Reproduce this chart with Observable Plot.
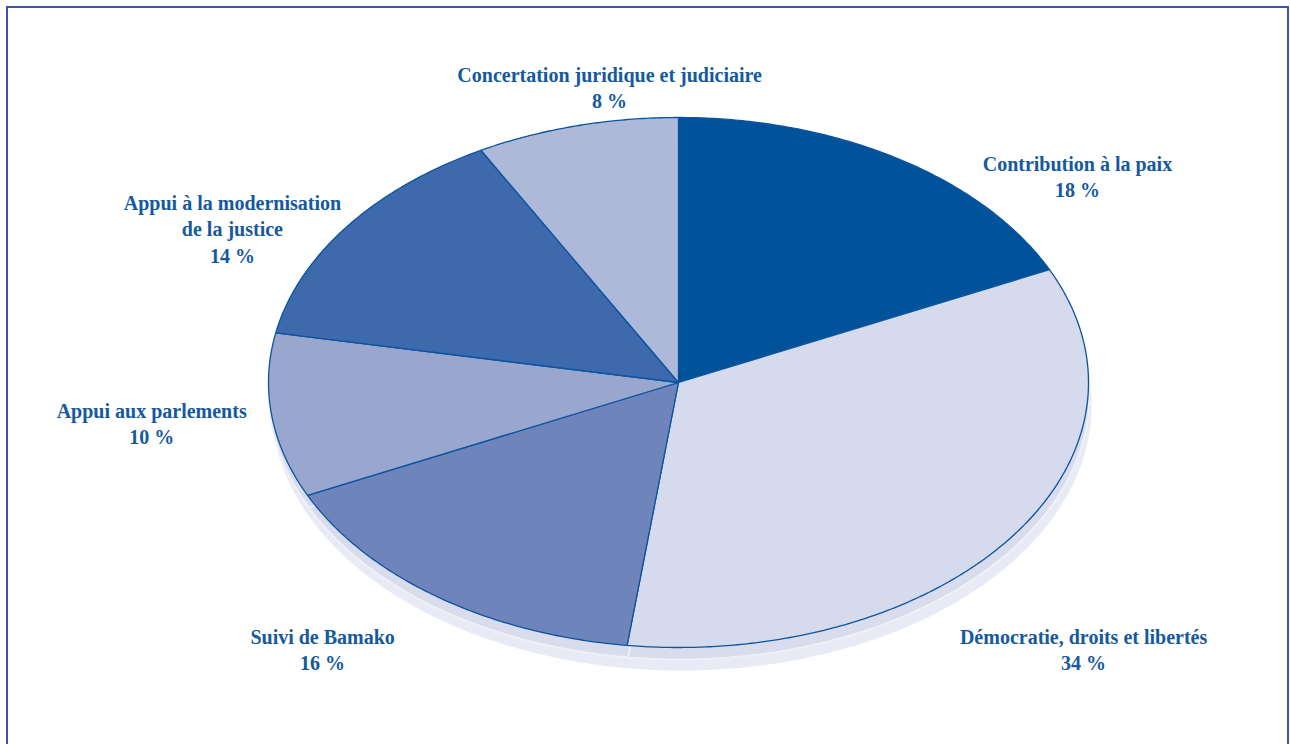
<!DOCTYPE html>
<html><head><meta charset="utf-8">
<script src="https://cdn.jsdelivr.net/npm/d3@7"></script>
<script src="https://cdn.jsdelivr.net/npm/@observablehq/plot@0.6"></script>
<style>
html,body{margin:0;padding:0;background:#fff;overflow:hidden;width:1290px;height:744px}
#frame{position:absolute;left:6px;top:6px;width:1283px;height:760px;border:2px solid #3f53b3;border-bottom:none;box-sizing:border-box}
#chart{position:absolute;left:0;top:0}
svg text{font-family:"Liberation Serif","DejaVu Serif",serif}
</style></head><body>
<div id="frame"></div>
<div id="chart"></div>
<script>
const categories = [
  "Contribution à la paix",
  "Démocratie, droits et libertés",
  "Suivi de Bamako",
  "Appui aux parlements",
  "Appui à la modernisation de la justice",
  "Concertation juridique et judiciaire"
];
const shares = [18, 34, 16, 10, 14, 8];
const labelNames = [
  "Contribution à la paix",
  "Démocratie, droits et libertés",
  "Suivi de Bamako",
  "Appui aux parlements",
  "Appui à la modernisation\nde la justice",
  "Concertation juridique et judiciaire"
];
const palette = ["#00529b", "#d5daec", "#6e84bb", "#99a6ce", "#3f69ad", "#aeb8d9"];
// label block centres, in unit-ellipse coordinates (layout only)
const labelAnchors = [
  [0.973, 0.780], [0.988, -1.004], [-0.868, -1.004],
  [-1.285, -0.150], [-1.088, 0.583], [-0.168, 1.116]
];

const arcs = d3.pie().sort(null).value(d => d)(shares);
const step = Math.PI / 360;
function slicePoints(a0, a1, cat, withCentre = true) {
  const pts = withCentre ? [{cat, x: 0, y: 0}] : [];
  const n = Math.max(2, Math.ceil((a1 - a0) / step));
  for (let i = 0; i <= n; i++) {
    const a = a0 + (a1 - a0) * i / n;
    pts.push({cat, x: Math.sin(a), y: Math.cos(a)});
  }
  return pts;
}
const slicePts = arcs.flatMap((a, i) => slicePoints(a.startAngle, a.endAngle, categories[i]));
const rimPts = slicePoints(0, 2 * Math.PI, "rim", false);
const labelData = categories.map((c, i) => ({
  x: labelAnchors[i][0], y: labelAnchors[i][1],
  text: `${labelNames[i]}\n${shares[i]} %`
}));

const chart = Plot.plot({
  width: 1290, height: 744, margin: 0,
  x: {domain: [-1, 1], range: [268, 1088], axis: null},
  y: {domain: [-1, 1], range: [647, 117], axis: null},
  color: {domain: categories, range: palette},
  style: {background: "transparent", overflow: "visible", fontFamily: "'Liberation Serif', 'DejaVu Serif', serif"},
  marks: [
    Plot.line(rimPts, {x: "x", y: "y", fill: "#e8ebf5", stroke: "none", curve: "linear-closed", dx: 3, dy: 23}),
    Plot.line(slicePts, {x: "x", y: "y", z: "cat", fill: "#d8dcec", stroke: "#eef0f7", strokeWidth: 2, curve: "linear-closed", dx: 1, dy: 12}),
    Plot.line(slicePts, {x: "x", y: "y", z: "cat", fill: "cat", stroke: "#0b55a0", strokeWidth: 1.3, strokeLinejoin: "round", curve: "linear-closed"}),
    Plot.text(labelData, {x: "x", y: "y", text: "text", fill: "#15599e", fontSize: 20, fontWeight: "bold", fontFamily: "'Liberation Serif', 'DejaVu Serif', serif", lineHeight: 1.31, textAnchor: "middle"})
  ]
});
document.getElementById("chart").appendChild(chart);
</script>
</body></html>
